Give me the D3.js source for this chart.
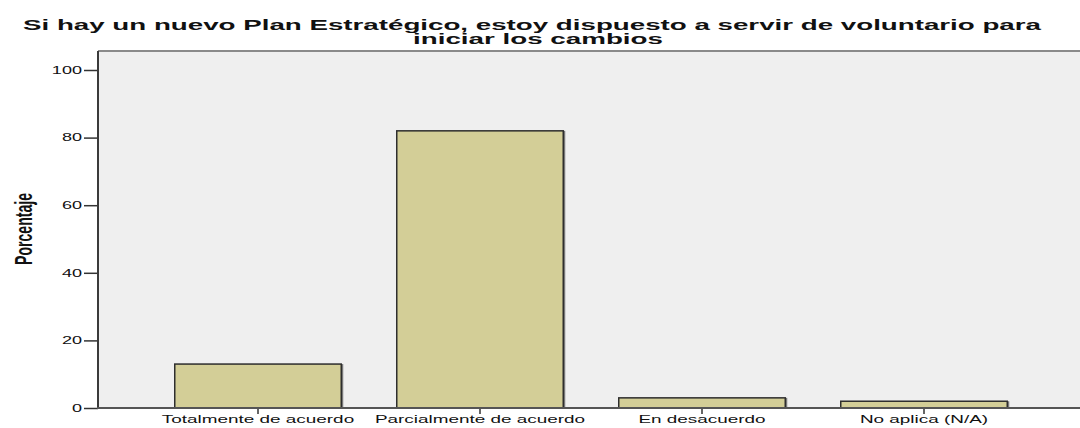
<!DOCTYPE html>
<meta charset="utf-8"/>
<style>
  body { margin: 0; background: #fff; }
  * { font-family: Arial, 'Liberation Sans', sans-serif; }
</style>
<svg width="1080" height="428"></svg>
<script src="https://cdn.jsdelivr.net/npm/d3@7"></script>
<script>
// chart data
var categories = ['Totalmente de acuerdo', 'Parcialmente de acuerdo', 'En desacuerdo', 'No aplica (N/A)']
var porcentajes = [13, 82, 3, 2]
var yTicks = [0, 20, 40, 60, 80, 100]
var titleLines = ['Si hay un nuevo Plan Estratégico, estoy dispuesto a servir de voluntario para', 'iniciar los cambios']

var svg = d3.select('svg'),
    plotLeft = 98, plotTop = 51, plotRight = 1080, plotBottom = 408

var x = d3.scaleBand()
    .domain(categories)
    .range([147, 1035])
    .paddingInner(0.25)
    .paddingOuter(0.125)

var y = d3.scaleLinear()
    .domain([0, 100])
    .range([plotBottom, 70])

// stretch text sideways like the original export
function stretch(sel, factor) {
  sel.each(function() {
    var len = this.getComputedTextLength()
    d3.select(this)
      .attr('textLength', len * factor)
      .attr('lengthAdjust', 'spacingAndGlyphs')
  })
}

// plot background
svg.append('rect')
    .attr('x', plotLeft)
    .attr('y', plotTop)
    .attr('width', plotRight - plotLeft)
    .attr('height', plotBottom - plotTop)
    .attr('fill', '#efefef')

svg.append('line')
    .attr('x1', plotLeft).attr('x2', plotRight)
    .attr('y1', plotTop).attr('y2', plotTop)
    .attr('stroke', '#8a8a8a')
    .attr('stroke-width', 2)

// bars with a little shadow on the right
var bars = svg.append('g')
bars.selectAll('rect.shadow')
  .data(porcentajes)
  .enter().append('rect')
    .attr('class', 'shadow')
    .attr('x', function(d, i) { return x(categories[i]) + 2 })
    .attr('y', function(d) { return y(d) })
    .attr('width', x.bandwidth())
    .attr('height', function(d) { return plotBottom - y(d) })
    .attr('fill', '#777')

bars.selectAll('rect.bar')
  .data(porcentajes)
  .enter().append('rect')
    .attr('class', 'bar')
    .attr('x', function(d, i) { return x(categories[i]) })
    .attr('y', function(d) { return y(d) })
    .attr('width', x.bandwidth())
    .attr('height', function(d) { return plotBottom - y(d) })
    .attr('fill', '#d3ce97')
    .attr('stroke', '#2e2e2e')
    .attr('stroke-width', 1.5)

// axes
var yAxis = svg.append('g')
    .attr('transform', 'translate(' + plotLeft + ',0)')
    .call(d3.axisLeft(y).tickValues(yTicks).tickSize(14).tickPadding(2).tickSizeOuter(0))
yAxis.select('.domain').remove()
yAxis.selectAll('.tick line').attr('stroke', '#333').attr('stroke-width', 1.5)
yAxis.selectAll('.tick text')
    .attr('fill', '#111')
    .style('font-size', '10.5px')
    .call(stretch, 1.72)

svg.append('line')
    .attr('x1', plotLeft).attr('x2', plotLeft)
    .attr('y1', plotTop).attr('y2', plotBottom)
    .attr('stroke', '#3a3a3a')
    .attr('stroke-width', 2)

var xAxis = svg.append('g')
    .attr('transform', 'translate(0,' + plotBottom + ')')
    .call(d3.axisBottom(x).tickSize(6).tickPadding(2).tickSizeOuter(0))
xAxis.select('.domain').remove()
xAxis.selectAll('.tick line').attr('stroke', '#333').attr('stroke-width', 1.5)
xAxis.selectAll('.tick text')
    .attr('fill', '#111')
    .style('font-size', '10.5px')
    .call(stretch, 1.8)

svg.append('line')
    .attr('x1', plotLeft - 1).attr('x2', plotRight)
    .attr('y1', plotBottom).attr('y2', plotBottom)
    .attr('stroke', '#555')
    .attr('stroke-width', 2)

// y label
svg.append('text')
    .attr('transform', 'translate(32,229) rotate(-90)')
    .attr('text-anchor', 'middle')
    .attr('textLength', 72)
    .attr('lengthAdjust', 'spacingAndGlyphs')
    .style('font-weight', 'bold')
    .style('font-size', '24px')
    .attr('fill', '#111')
    .text('Porcentaje')

// title
svg.append('text')
    .attr('x', 23)
    .attr('y', 30)
    .attr('textLength', 1018)
    .attr('lengthAdjust', 'spacingAndGlyphs')
    .style('font-weight', 'bold')
    .style('font-size', '15.5px')
    .attr('fill', '#111')
    .text(titleLines[0])

svg.append('text')
    .attr('x', 413)
    .attr('y', 44)
    .attr('textLength', 250)
    .attr('lengthAdjust', 'spacingAndGlyphs')
    .style('font-weight', 'bold')
    .style('font-size', '15.5px')
    .attr('fill', '#111')
    .text(titleLines[1])
</script>
